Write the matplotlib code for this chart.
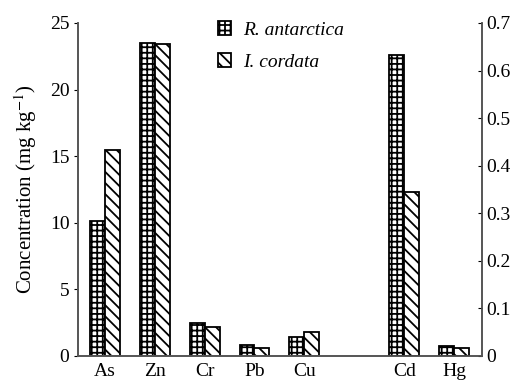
import numpy as np
import matplotlib.pyplot as plt

plt.rcParams["font.family"] = ["Liberation Serif", "DejaVu Serif"]
plt.rcParams["mathtext.fontset"] = "stix"
plt.rcParams["hatch.linewidth"] = 1.3

# left axis elements (mg/kg)
left_elements = ["As", "Zn", "Cr", "Pb", "Cu"]
left_ra = [10.1, 23.5, 2.5, 0.8, 1.4]
left_ic = [15.5, 23.4, 2.2, 0.62, 1.8]

# right axis elements
right_elements = ["Cd", "Hg"]
right_ra = [0.633, 0.020]
right_ic = [0.345, 0.016]

x_left = np.arange(len(left_elements))
x_right = np.array([6, 7])
w = 0.3

fig = plt.figure(figsize=(5.13, 3.8), dpi=100)
ax = fig.add_axes([0.1515, 0.0632, 0.7875, 0.8763])
ax2 = ax.twinx()

style_ra = dict(color="white", edgecolor="black", hatch="+++", linewidth=1.3)
style_ic = dict(color="white", edgecolor="black", hatch="\\\\\\", linewidth=1.3)

b1 = ax.bar(x_left - w / 2, left_ra, w, **style_ra, label="R. antarctica")
b2 = ax.bar(x_left + w / 2, left_ic, w, **style_ic, label="I. cordata")
ax2.bar(x_right - w / 2, right_ra, w, **style_ra)
ax2.bar(x_right + w / 2, right_ic, w, **style_ic)

ax.set_xlim(-0.54, 7.55)
ax.set_ylim(0, 25)
ax2.set_ylim(0, 0.7)
ax.set_yticks([0, 5, 10, 15, 20, 25])
ax2.set_yticks(np.arange(0, 0.71, 0.1))
ax2.set_yticklabels(["0", "0.1", "0.2", "0.3", "0.4", "0.5", "0.6", "0.7"])

ax.set_xticks(list(x_left) + list(x_right))
ax.set_xticklabels(left_elements + right_elements)

for a in (ax, ax2):
    a.spines["top"].set_visible(False)
    for s in a.spines.values():
        s.set_color("#555555")
        s.set_linewidth(1.2)

ax.tick_params(axis="x", length=0, labelsize=14, pad=5)
ax.tick_params(axis="y", direction="out", length=3, labelsize=14, pad=3)
ax2.tick_params(axis="y", direction="in", length=3, labelsize=14, pad=3)

ax.set_ylabel("Concentration (mg kg$^{-1}$)", fontsize=15, labelpad=8)

leg = fig.legend(handles=[b1, b2], loc="upper left", bbox_to_anchor=(0.39, 0.99),
                 frameon=False, handlelength=0.7, handleheight=0.7,
                 handletextpad=0.6, labelspacing=0.75, prop={"style": "italic", "size": 14})

fig.savefig("out.png", dpi=100)
